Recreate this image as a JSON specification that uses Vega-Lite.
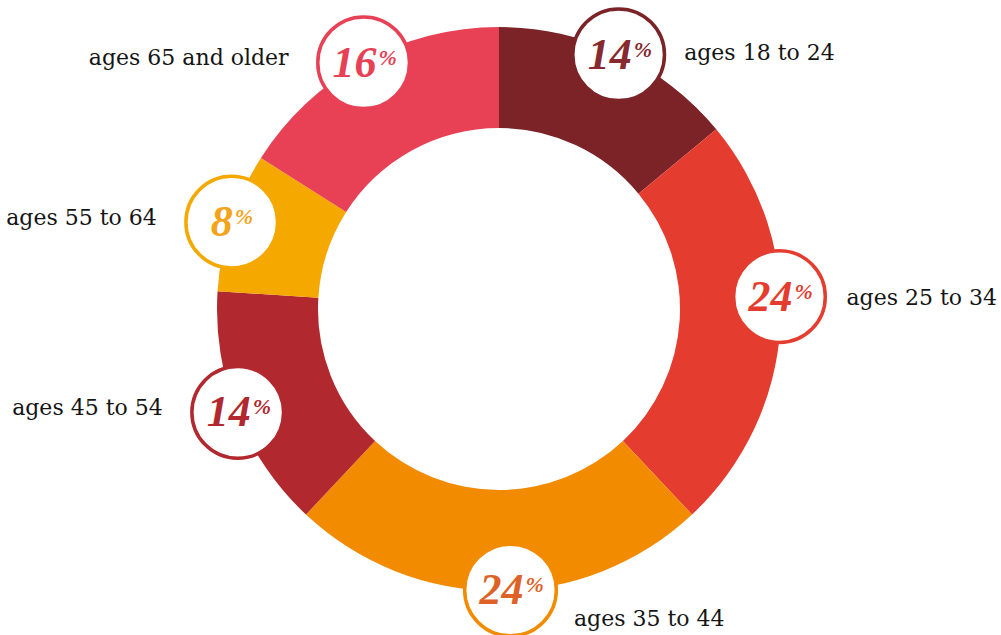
{
  "$schema": "https://vega.github.io/schema/vega-lite/v6.json",
  "width": 1001,
  "height": 635,
  "padding": 0,
  "autosize": {"type": "none"},
  "background": "white",
  "config": {"view": {"stroke": null}},
  "data": {
    "values": [
      {"age": "ages 18 to 24", "pct": 14},
      {"age": "ages 25 to 34", "pct": 24},
      {"age": "ages 35 to 44", "pct": 24},
      {"age": "ages 45 to 54", "pct": 14},
      {"age": "ages 55 to 64", "pct": 8},
      {"age": "ages 65 and older", "pct": 16}
    ]
  },
  "transform": [
    {"stack": "pct", "groupby": [], "sort": [{"field": "age", "order": "ascending"}], "as": ["s0", "s1"]},
    {"calculate": "(datum.s0 + datum.s1) / 2", "as": "mid"},
    {"calculate": "0.9965 * sin(datum.mid / 100 * 2 * PI)", "as": "cx"},
    {"calculate": "0.9965 * cos(datum.mid / 100 * 2 * PI)", "as": "cy"},
    {"calculate": "datum.pct + ''", "as": "num"}
  ],
  "encoding": {
    "x": {"field": "cx", "type": "quantitative", "scale": {"domain": [-1.7695, 1.78014], "nice": false, "zero": false}, "axis": null},
    "y": {"field": "cy", "type": "quantitative", "scale": {"domain": [-1.15603, 1.09574], "nice": false, "zero": false}, "axis": null}
  },
  "layer": [
    {
      "mark": {"type": "arc", "radius": 282, "radius2": 181},
      "encoding": {
        "x": {"datum": 0, "type": "quantitative"},
        "y": {"datum": 0, "type": "quantitative"},
        "theta": {"field": "s0", "type": "quantitative", "stack": null, "scale": {"domain": [0, 100], "range": [0, 6.283185307179586]}},
        "theta2": {"field": "s1"},
        "fill": {"field": "age", "type": "nominal", "legend": null,
          "scale": {"domain": ["ages 18 to 24", "ages 25 to 34", "ages 35 to 44", "ages 45 to 54", "ages 55 to 64", "ages 65 and older"],
                    "range": ["#7C2328", "#E43D30", "#F38B00", "#B1282E", "#F5A800", "#E84054"]}}
      }
    },
    {
      "transform": [{"filter": "datum.age != 'ages 25 to 34' && datum.age != 'ages 35 to 44'"}],
      "mark": {"type": "point", "shape": "circle", "size": 8400, "filled": true, "fill": "white", "opacity": 1, "strokeWidth": 3.5},
      "encoding": {
        "stroke": {"field": "age", "type": "nominal", "legend": null,
          "scale": {"domain": ["ages 18 to 24", "ages 25 to 34", "ages 35 to 44", "ages 45 to 54", "ages 55 to 64", "ages 65 and older"],
                    "range": ["#7C2328", "#E43D30", "#F38B00", "#B1282E", "#F5A800", "#E84054"]}}
      }
    },
    {
      "transform": [{"filter": "datum.age == 'ages 25 to 34'"}],
      "mark": {"type": "point", "shape": "circle", "size": 8400, "filled": true, "fill": "white", "opacity": 1, "strokeWidth": 3.5, "yOffset": -30},
      "encoding": {"stroke": {"field": "age", "type": "nominal", "legend": null}}
    },
    {
      "transform": [{"filter": "datum.age == 'ages 35 to 44'"}],
      "mark": {"type": "point", "shape": "circle", "size": 8400, "filled": true, "fill": "white", "opacity": 1, "strokeWidth": 3.5, "xOffset": 11.5},
      "encoding": {"stroke": {"field": "age", "type": "nominal", "legend": null}}
    },
    {
      "transform": [{"filter": "datum.pct >= 10 && datum.age != 'ages 25 to 34' && datum.age != 'ages 35 to 44'"}],
      "mark": {"type": "text", "font": "Liberation Serif", "fontStyle": "italic", "fontWeight": "bold", "fontSize": 44, "align": "right", "baseline": "alphabetic", "dx": 13, "dy": 14},
      "encoding": {
        "text": {"field": "num"},
        "color": {"field": "age", "type": "nominal", "legend": null,
          "scale": {"domain": ["ages 18 to 24", "ages 25 to 34", "ages 35 to 44", "ages 45 to 54", "ages 55 to 64", "ages 65 and older"],
                    "range": ["#862A2F", "#E43D30", "#DE6228", "#B1282E", "#F2A51A", "#E84054"]}}
      }
    },
    {
      "transform": [{"filter": "datum.pct < 10"}],
      "mark": {"type": "text", "font": "Liberation Serif", "fontStyle": "italic", "fontWeight": "bold", "fontSize": 44, "align": "right", "baseline": "alphabetic", "dx": 1, "dy": 14},
      "encoding": {"text": {"field": "num"}, "color": {"field": "age", "type": "nominal", "legend": null}}
    },
    {
      "transform": [{"filter": "datum.age == 'ages 25 to 34'"}],
      "mark": {"type": "text", "font": "Liberation Serif", "fontStyle": "italic", "fontWeight": "bold", "fontSize": 44, "align": "right", "baseline": "alphabetic", "dx": 13, "dy": -16},
      "encoding": {"text": {"field": "num"}, "color": {"field": "age", "type": "nominal", "legend": null}}
    },
    {
      "transform": [{"filter": "datum.age == 'ages 35 to 44'"}],
      "mark": {"type": "text", "font": "Liberation Serif", "fontStyle": "italic", "fontWeight": "bold", "fontSize": 44, "align": "right", "baseline": "alphabetic", "dx": 24.5, "dy": 14},
      "encoding": {"text": {"field": "num"}, "color": {"field": "age", "type": "nominal", "legend": null}}
    },
    {
      "transform": [{"filter": "datum.pct >= 10 && datum.age != 'ages 25 to 34' && datum.age != 'ages 35 to 44'"}],
      "mark": {"type": "text", "text": "%", "font": "Liberation Serif", "fontStyle": "italic", "fontWeight": "bold", "fontSize": 22, "align": "left", "baseline": "alphabetic", "dx": 15, "dy": 2},
      "encoding": {"color": {"field": "age", "type": "nominal", "legend": null}}
    },
    {
      "transform": [{"filter": "datum.pct < 10"}],
      "mark": {"type": "text", "text": "%", "font": "Liberation Serif", "fontStyle": "italic", "fontWeight": "bold", "fontSize": 22, "align": "left", "baseline": "alphabetic", "dx": 3, "dy": 2},
      "encoding": {"color": {"field": "age", "type": "nominal", "legend": null}}
    },
    {
      "transform": [{"filter": "datum.age == 'ages 25 to 34'"}],
      "mark": {"type": "text", "text": "%", "font": "Liberation Serif", "fontStyle": "italic", "fontWeight": "bold", "fontSize": 22, "align": "left", "baseline": "alphabetic", "dx": 15, "dy": -28},
      "encoding": {"color": {"field": "age", "type": "nominal", "legend": null}}
    },
    {
      "transform": [{"filter": "datum.age == 'ages 35 to 44'"}],
      "mark": {"type": "text", "text": "%", "font": "Liberation Serif", "fontStyle": "italic", "fontWeight": "bold", "fontSize": 22, "align": "left", "baseline": "alphabetic", "dx": 26.5, "dy": 2},
      "encoding": {"color": {"field": "age", "type": "nominal", "legend": null}}
    },
    {
      "transform": [{"filter": "datum.age == 'ages 18 to 24'"}],
      "mark": {"type": "text", "font": "DejaVu Serif", "fontSize": 22, "fill": "#151515", "align": "left", "baseline": "alphabetic", "dx": 65.5, "dy": 5},
      "encoding": {"text": {"field": "age"}}
    },
    {
      "transform": [{"filter": "datum.age == 'ages 25 to 34'"}],
      "mark": {"type": "text", "font": "DejaVu Serif", "fontSize": 22, "fill": "#151515", "align": "left", "baseline": "alphabetic", "dx": 67, "dy": -21.5},
      "encoding": {"text": {"field": "age"}}
    },
    {
      "transform": [{"filter": "datum.age == 'ages 35 to 44'"}],
      "mark": {"type": "text", "font": "DejaVu Serif", "fontSize": 22, "fill": "#151515", "align": "left", "baseline": "alphabetic", "dx": 75, "dy": 36},
      "encoding": {"text": {"field": "age"}}
    },
    {
      "transform": [{"filter": "datum.mid > 50"}],
      "mark": {"type": "text", "font": "DejaVu Serif", "fontSize": 22, "fill": "#151515", "align": "right", "baseline": "alphabetic", "dx": -75, "dy": 2.5},
      "encoding": {"text": {"field": "age"}}
    }
  ]
}
